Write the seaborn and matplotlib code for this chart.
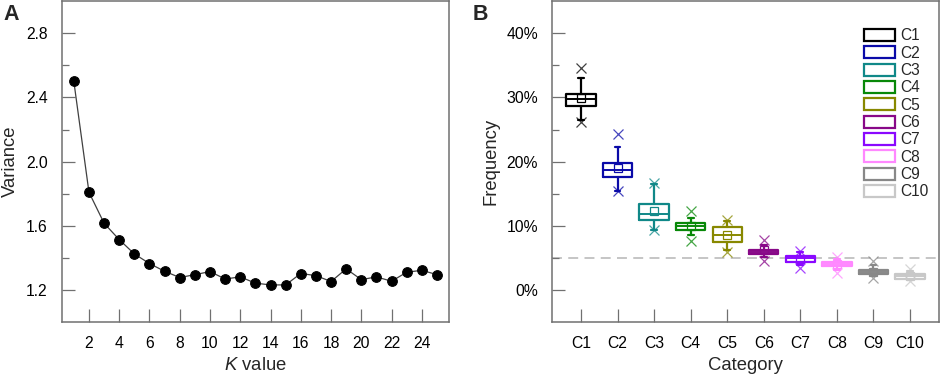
import matplotlib
matplotlib.use("Agg")
import matplotlib.pyplot as plt
import matplotlib.ticker as mticker
from matplotlib.patches import Patch
import numpy as np
import pandas as pd
import seaborn as sns

# Panel A: variance vs K
k_values = list(range(1, 26))
variance = [2.50, 1.81, 1.617, 1.515, 1.426, 1.366, 1.318, 1.279, 1.297, 1.316,
            1.270, 1.283, 1.244, 1.233, 1.233, 1.304, 1.291, 1.254, 1.333, 1.266,
            1.283, 1.256, 1.312, 1.324, 1.297]

# Panel B: frequency box statistics (percent)
categories = ["C1", "C2", "C3", "C4", "C5", "C6", "C7", "C8", "C9", "C10"]
colors = ["#000000", "#0a0aa8", "#108888", "#088808", "#888800",
          "#880888", "#8a08ff", "#ff88ff", "#888888", "#c8c8c8"]
whisker_lo = [26.5, 15.5, 9.3, 8.6, 6.2, 5.2, 3.9, 3.2, 2.3, 1.6]
q1 = [28.7, 17.6, 10.9, 9.4, 7.45, 5.65, 4.45, 3.7, 2.6, 1.8]
median = [29.75, 18.75, 11.85, 9.95, 8.6, 5.95, 5.0, 4.1, 2.9, 2.25]
q3 = [30.5, 19.85, 13.35, 10.45, 9.8, 6.3, 5.25, 4.4, 3.15, 2.55]
whisker_hi = [33.0, 22.3, 16.5, 11.2, 10.7, 7.1, 5.9, 4.8, 4.0, 3.0]
mean = [29.9, 19.0, 12.4, 9.95, 8.6, 6.3, 4.9, 4.1, 2.9, 2.2]
min_val = [26.25, 15.5, 9.4, 7.6, 5.95, 4.5, 3.45, 2.7, 1.95, 1.4]
max_val = [34.6, 24.3, 16.7, 12.4, 10.9, 7.75, 6.1, 5.1, 4.5, 3.3]
reference_line = 5.0

sns.set_theme(style="ticks")
plt.rcParams["font.family"] = ["Liberation Sans", "DejaVu Sans"]
plt.rcParams["mathtext.fontset"] = "custom"
plt.rcParams["mathtext.rm"] = "Liberation Sans"
plt.rcParams["mathtext.it"] = "Liberation Sans:italic"

spine_color = "#707070"

fig = plt.figure(figsize=(9.41, 3.77), dpi=100)
ax_a = fig.add_axes([0.0656, 0.145, 0.4116, 0.852])
ax_b = fig.add_axes([0.5863, 0.145, 0.4119, 0.852])


def style_axes(ax):
    for side in ["left", "right", "top", "bottom"]:
        ax.spines[side].set_visible(True)
        ax.spines[side].set_color(spine_color)
        ax.spines[side].set_linewidth(1.1)
    ax.tick_params(axis="both", which="major", direction="in", length=9.5,
                   width=0.9, color=spine_color, labelsize=11.3, labelcolor="black",
                   top=False, right=False)
    ax.tick_params(axis="x", which="major", pad=10)
    ax.tick_params(axis="y", which="major", pad=10)
    ax.tick_params(axis="both", which="minor", direction="in", length=5,
                   width=0.9, color=spine_color, top=False, right=False)
    ax.grid(False)


# ---- Panel A ----
df_a = pd.DataFrame({"k": k_values, "variance": variance})
sns.lineplot(data=df_a, x="k", y="variance", ax=ax_a, color="#404040",
             linewidth=0.9, marker="o", markersize=7,
             markerfacecolor="black", markeredgecolor="black")
ax_a.set_xlim(0.2, 25.8)
ax_a.set_ylim(1.0, 3.0)
ax_a.xaxis.set_major_locator(mticker.FixedLocator(range(2, 25, 2)))
ax_a.yaxis.set_major_locator(mticker.FixedLocator([1.2, 1.6, 2.0, 2.4, 2.8]))
ax_a.yaxis.set_minor_locator(mticker.FixedLocator([1.4, 1.8, 2.2, 2.6]))
ax_a.yaxis.set_major_formatter(mticker.FormatStrFormatter("%.1f"))
style_axes(ax_a)
ax_a.set_xlabel(r"$\it{K}$ value", fontsize=13.3, labelpad=4)
ax_a.set_ylabel("Variance", fontsize=13.3, labelpad=5)

# ---- Panel B ----
stats = []
for i, cat in enumerate(categories):
    stats.append({
        "label": cat,
        "whislo": whisker_lo[i],
        "q1": q1[i],
        "med": median[i],
        "q3": q3[i],
        "whishi": whisker_hi[i],
        "mean": mean[i],
        "fliers": np.array([min_val[i], max_val[i]]),
    })

positions = np.arange(len(categories))
parts = ax_b.bxp(stats, positions=positions, widths=0.8, capwidths=0.16,
                 showmeans=True, showfliers=True, patch_artist=False)
for i, c in enumerate(colors):
    parts["boxes"][i].set(color=c, linewidth=1.6)
    parts["medians"][i].set(color=c, linewidth=1.4)
    for w in parts["whiskers"][2 * i:2 * i + 2]:
        w.set(color=c, linewidth=1.6)
    for cap in parts["caps"][2 * i:2 * i + 2]:
        cap.set(color=c, linewidth=1.6)
    parts["means"][i].set(marker="s", markerfacecolor="none", markeredgecolor=c,
                          markersize=5.5, markeredgewidth=0.9)
    parts["fliers"][i].set(marker="x", markeredgecolor=c, markersize=7,
                           markeredgewidth=0.9, alpha=0.75)

ax_b.axhline(reference_line, color="#c0c0c0", linestyle=(0, (5.5, 3.5)),
             linewidth=1.3, zorder=0)
ax_b.set_xlim(-0.8, 9.8)
ax_b.set_ylim(-5, 45)
ax_b.set_xticks(positions)
ax_b.set_xticklabels(categories)
ax_b.yaxis.set_major_locator(mticker.FixedLocator([0, 10, 20, 30, 40]))
ax_b.yaxis.set_minor_locator(mticker.FixedLocator([5, 15, 25, 35]))
ax_b.yaxis.set_major_formatter(mticker.PercentFormatter(decimals=0))
style_axes(ax_b)
ax_b.set_xlabel("Category", fontsize=13.3, labelpad=4)
ax_b.set_ylabel("Frequency", fontsize=13.3, labelpad=5)

handles = [Patch(facecolor="white", edgecolor=c, linewidth=1.6, label=cat)
           for cat, c in zip(categories, colors)]
ax_b.legend(handles=handles, loc="upper left", bbox_to_anchor=(0.806, 0.915),
            frameon=False, fontsize=11.2, handlelength=2.0, handleheight=0.8,
            labelspacing=0.15, handletextpad=0.35, borderpad=0, borderaxespad=0)

fig.text(0.004, 0.962, "A", fontsize=15.5, fontweight="bold", va="center", ha="left")
fig.text(0.502, 0.962, "B", fontsize=15.5, fontweight="bold", va="center", ha="left")

fig.savefig("out.png", dpi=100)
